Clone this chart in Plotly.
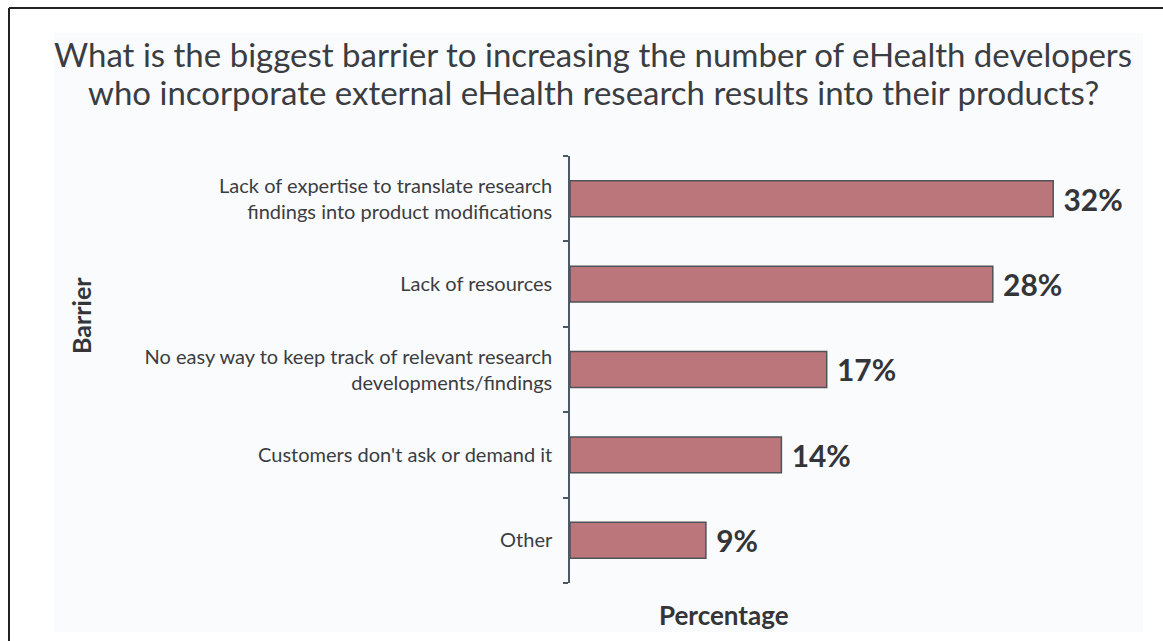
import plotly.graph_objects as go

# Survey answers, top to bottom
categories = [
    "Lack of expertise to translate research findings into product modifications",
    "Lack of resources",
    "No easy way to keep track of relevant research developments/findings",
    "Customers don't ask or demand it",
    "Other",
]
tick_labels = [
    "Lack of expertise to translate research<br>findings into product modifications",
    "Lack of resources",
    "No easy way to keep track of relevant research<br>developments/findings",
    "Customers don't ask or demand it",
    "Other",
]
percentages = [32, 28, 17, 14, 9]
value_labels = [f"{v}%" for v in percentages]

title_lines = [
    "What is the biggest barrier to increasing the number of eHealth developers",
    "who incorporate external eHealth research results into their products?",
]
y_title = "Barrier"
x_title = "Percentage"

W, H = 1163, 641
# plot area in page pixels
L, R, T, B = 570, 1143, 156, 583


def px_x(x):
    return (x - L) / (R - L)


def px_y(y):
    return (B - y) / (B - T)


FONT = "Lato"
TEXT_DARK = "#3a3d41"

fig = go.Figure(
    go.Bar(
        y=categories,
        x=percentages,
        orientation="h",
        width=0.42,
        marker=dict(color="#bb767b", line=dict(color="#4f5258", width=1.5)),
        text=[" " + t for t in value_labels],
        textposition="outside",
        textfont=dict(family=FONT, size=30, color="#333538", weight="bold"),
        cliponaxis=False,
        hoverinfo="skip",
    )
)

fig.update_layout(
    width=W,
    height=H,
    margin=dict(l=L, r=W - R, t=T, b=H - B, pad=0),
    paper_bgcolor="white",
    plot_bgcolor="rgba(0,0,0,0)",
    showlegend=False,
    font=dict(family=FONT, color=TEXT_DARK),
    xaxis=dict(
        range=[0, (R - L) / 15.1],
        showgrid=False,
        zeroline=False,
        showline=False,
        showticklabels=False,
        ticks="",
        fixedrange=True,
    ),
    yaxis=dict(
        categoryorder="array",
        categoryarray=categories,
        tickmode="array",
        tickvals=categories,
        ticktext=tick_labels,
        range=[4.5, -0.5],
        showgrid=False,
        zeroline=False,
        showline=True,
        linecolor="#4b5966",
        linewidth=1.5,
        ticks="outside",
        tickson="boundaries",
        ticklen=5,
        tickwidth=1.5,
        tickcolor="#4b5966",
        ticklabelstandoff=12,
        tickfont=dict(family=FONT, size=20, color=TEXT_DARK),
        fixedrange=True,
    ),
)

for line, yc in zip(title_lines, [54, 92]):
    fig.add_annotation(
        text=line, xref="paper", yref="paper",
        x=px_x(593), y=px_y(yc), xanchor="center", yanchor="middle",
        showarrow=False, align="center",
        font=dict(family=FONT, size=33, color=TEXT_DARK),
    )
fig.add_annotation(
    text=y_title, xref="paper", yref="paper",
    x=px_x(81), y=px_y(316), xanchor="center", yanchor="middle",
    textangle=-90, showarrow=False,
    font=dict(family=FONT, size=25, color="#333538", weight="bold"),
)
fig.add_annotation(
    text=x_title, xref="paper", yref="paper",
    x=px_x(724), y=px_y(615), xanchor="center", yanchor="middle",
    showarrow=False,
    font=dict(family=FONT, size=26, color="#333538", weight="bold"),
)

# light panel behind the chart
fig.add_shape(
    type="rect", xref="paper", yref="paper", layer="below",
    x0=px_x(54), x1=px_x(1143), y0=px_y(632), y1=px_y(33),
    fillcolor="#fafbfd", line=dict(width=0),
)
# frame lines along the left and top edges
fig.add_shape(
    type="line", xref="paper", yref="paper",
    x0=px_x(9), x1=px_x(9), y0=px_y(8), y1=px_y(H + 2),
    line=dict(color="#222222", width=2),
)
fig.add_shape(
    type="line", xref="paper", yref="paper",
    x0=px_x(9), x1=px_x(W + 2), y0=px_y(8), y1=px_y(8),
    line=dict(color="#222222", width=2),
)

fig.write_html("out.html")
